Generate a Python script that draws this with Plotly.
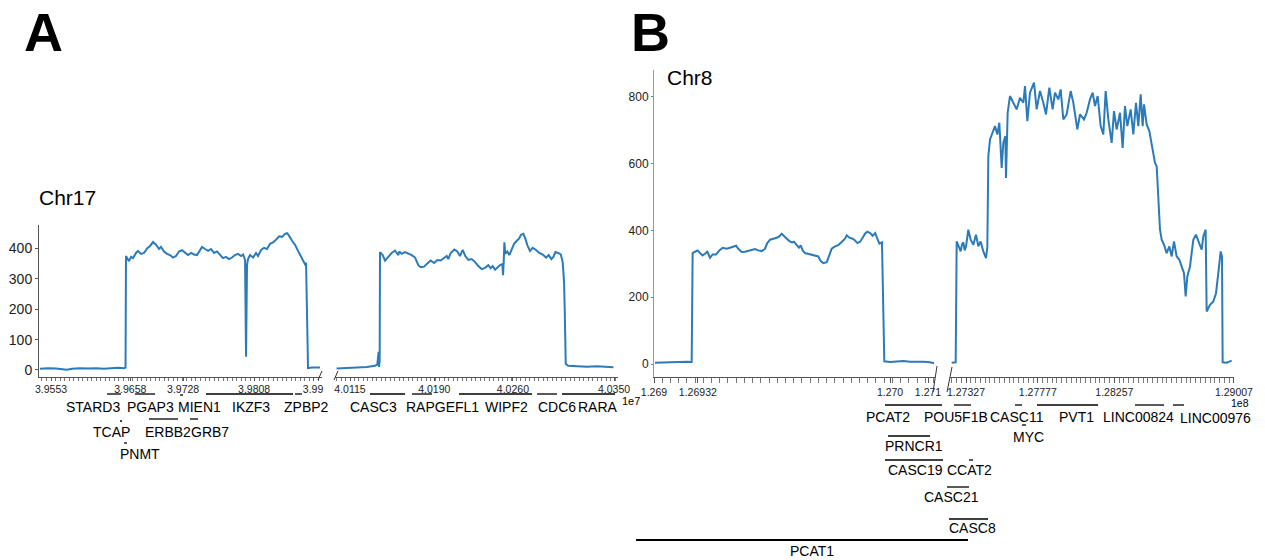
import plotly.graph_objects as go

W, H = 1265, 560
FONT = "Liberation Sans, Arial, sans-serif"
BLUE = "#2b7bba"
AXC = "#555555"

# ---------------- data: panel A (Chr17, x in units of 1e7) ----------------
a1_x = [3.95384, 3.95490, 3.95596, 3.95702, 3.95742, 3.95808, 3.95914, 3.96020, 3.96126, 3.96232,
        3.96338, 3.96417, 3.96497, 3.96517,
        3.96523, 3.96537, 3.96563, 3.96590, 3.96616, 3.96656, 3.96682, 3.96722, 3.96762, 3.96802,
        3.96841, 3.96881, 3.96921, 3.96961, 3.96987, 3.97027, 3.97066, 3.97106, 3.97146, 3.97186,
        3.97225, 3.97265, 3.97305, 3.97345, 3.97384, 3.97424, 3.97464, 3.97504, 3.97530, 3.97570,
        3.97610, 3.97649, 3.97689, 3.97729, 3.97768, 3.97808, 3.97848, 3.97888, 3.97927, 3.97967,
        3.98007, 3.98047, 3.98074, 3.98100, 3.98113, 3.98126, 3.98139, 3.98166, 3.98206, 3.98245,
        3.98272, 3.98312, 3.98351, 3.98391, 3.98431, 3.98471, 3.98510, 3.98550, 3.98590, 3.98629,
        3.98656, 3.98682, 3.98722, 3.98762, 3.98802, 3.98841, 3.98868, 3.98894, 3.98908, 3.98927,
        3.98934, 3.98987, 3.99040, 3.99093]
a1_y = [4, 6, 5, 3, 1, 4, 6, 5, 6, 4, 6, 7, 6, 8,
        375, 368, 358, 372, 368, 385, 392, 382, 385, 400,
        408, 421, 412, 398, 405, 390, 382, 378, 370, 375,
        390, 394, 385, 378, 385, 380, 378, 392, 405, 398,
        392, 398, 385, 390, 378, 368, 372, 365, 370, 378,
        382, 375, 380, 362, 44, 345, 365, 378, 370, 385,
        375, 395, 402, 398, 415, 420, 428, 440, 438, 448,
        450, 442, 425, 412, 392, 375, 360, 348, 352, 120,
        6, 8, 7, 8]

a2_x = [4.01031, 4.01121, 4.01210, 4.01299, 4.01373, 4.01393, 4.01405, 4.01408, 4.01414, 4.01417,
        4.01441, 4.01462, 4.01491, 4.01521, 4.01551, 4.01580, 4.01589, 4.01610, 4.01640, 4.01669,
        4.01699, 4.01729, 4.01758, 4.01779, 4.01809, 4.01838, 4.01868, 4.01898, 4.01928, 4.01957,
        4.01987, 4.02011, 4.02025, 4.02046, 4.02078, 4.02105, 4.02129, 4.02153, 4.02176, 4.02203,
        4.02233, 4.02263, 4.02292, 4.02322, 4.02352, 4.02381, 4.02402, 4.02420, 4.02441, 4.02461,
        4.02485, 4.02506, 4.02512, 4.02518, 4.02524, 4.02532, 4.02550, 4.02568, 4.02589, 4.02610,
        4.02634, 4.02654, 4.02672, 4.02693, 4.02711, 4.02729, 4.02752, 4.02776, 4.02806, 4.02835,
        4.02865, 4.02895, 4.02919, 4.02942, 4.02960, 4.02978, 4.03002, 4.03026, 4.03043, 4.03055,
        4.03061, 4.03064, 4.03070, 4.03093, 4.03168, 4.03257, 4.03346, 4.03435, 4.03494]
a2_y = [5, 6, 8, 10, 14, 18, 60, 10, 30, 388,
        378, 360, 372, 385, 393, 378, 390, 382, 388, 384,
        378, 370, 345, 338, 340, 350, 360, 352, 362, 360,
        368, 375, 365, 385, 396, 390, 375, 395, 375, 362,
        365, 355, 342, 332, 336, 345, 335, 342, 330, 338,
        345, 348, 312, 355, 420, 382, 390, 378, 398, 415,
        425, 432, 445, 448, 432, 410, 392, 402, 395, 385,
        380, 370, 378, 365, 372, 388, 385, 380, 355, 290,
        200, 100, 20, 14, 12, 11, 12, 11, 9]

# ---------------- data: panel B (Chr8, x in units of 1e8) ----------------
b1_x = [1.269007, 1.269068, 1.269129, 1.269190, 1.269239, 1.269275, 1.269282, 1.269299, 1.269319, 1.269336,
        1.269355, 1.269372, 1.269389, 1.269409, 1.269428, 1.269453, 1.269477, 1.269501, 1.269531, 1.269555,
        1.269579, 1.269599, 1.269615, 1.269640, 1.269664, 1.269688, 1.269713, 1.269737, 1.269761, 1.269786,
        1.269810, 1.269827, 1.269847, 1.269871, 1.269896, 1.269915, 1.269932, 1.269949, 1.269969, 1.269988,
        1.270007, 1.270022, 1.270042, 1.270058, 1.270071, 1.270085, 1.270102, 1.270126, 1.270151, 1.270175,
        1.270199, 1.270217, 1.270236, 1.270261, 1.270280, 1.270297, 1.270321, 1.270345, 1.270370, 1.270394,
        1.270407, 1.270426, 1.270450, 1.270467, 1.270484, 1.270504, 1.270523, 1.270540, 1.270557, 1.270577,
        1.270596, 1.270615, 1.270630, 1.270645, 1.270664, 1.270674, 1.270681, 1.270723, 1.270772, 1.270820,
        1.270869, 1.270917, 1.270966, 1.271015, 1.271044]
b1_y = [4, 5, 4, 5, 7, 6, 332, 336, 340, 332,
        325, 330, 336, 318, 328, 328, 340, 348, 345, 348,
        352, 354, 345, 335, 336, 338, 340, 344, 340, 338,
        345, 362, 372, 374, 378, 382, 390, 383, 374, 368,
        364, 366, 356, 348, 355, 340, 332, 330, 326, 325,
        322, 308, 302, 305, 325, 345, 352, 356, 365, 375,
        385, 378, 375, 370, 362, 366, 378, 390, 396, 392,
        384, 392, 375, 360, 364, 200, 8, 6, 7, 9,
        7, 8, 7, 5, 2]

b2_x = [1.272372, 1.272624, 1.272686, 1.272789, 1.272936, 1.273019, 1.273103, 1.273186, 1.273270, 1.273416,
        1.273563, 1.273730, 1.273897, 1.274043, 1.274189, 1.274356, 1.274524, 1.274607, 1.274670, 1.274775,
        1.274942, 1.275088, 1.275234, 1.275360, 1.275506, 1.275610, 1.275736, 1.275778, 1.275882, 1.276028,
        1.276237, 1.276446, 1.276655, 1.276864, 1.276969, 1.277115, 1.277282, 1.277533, 1.277700, 1.277909,
        1.278118, 1.278285, 1.278494, 1.278703, 1.278849, 1.279058, 1.279204, 1.279371, 1.279580, 1.279831,
        1.279998, 1.280249, 1.280417, 1.280667, 1.280834, 1.281043, 1.281210, 1.281357, 1.281524, 1.281712,
        1.281879, 1.282026, 1.282193, 1.282402, 1.282548, 1.282715, 1.282924, 1.283091, 1.283238, 1.283384,
        1.283593, 1.283760, 1.283927, 1.284073, 1.284220, 1.284345, 1.284429, 1.284596, 1.284763, 1.284909,
        1.285013, 1.285119, 1.285223, 1.285328, 1.285432, 1.285537, 1.285683, 1.285850, 1.286017, 1.286163,
        1.286309, 1.286476, 1.286643, 1.286790, 1.286936, 1.287040, 1.287145, 1.287312, 1.287521, 1.287688,
        1.287897, 1.288043, 1.288148, 1.288294, 1.288357, 1.288566, 1.288775, 1.288942, 1.289088, 1.289235,
        1.289318, 1.289360, 1.289611, 1.289924]
b2_y = [4, 5, 367, 352, 337, 358, 364, 340, 352, 402,
        372, 357, 387, 352, 367, 337, 317, 350, 622, 672,
        697, 712, 687, 722, 587, 662, 682, 557, 752, 802,
        782, 762, 797, 782, 832, 727, 812, 842, 762, 817,
        782, 747, 827, 762, 812, 792, 822, 732, 747, 817,
        782, 702, 747, 732, 752, 792, 812, 772, 802, 712,
        687, 817, 732, 662, 757, 702, 752, 647, 772, 712,
        762, 687, 782, 712, 807, 712, 777, 717, 697, 662,
        627, 602, 592, 492, 402, 372, 357, 332, 352, 322,
        367, 322, 312, 292, 272, 202, 262, 292, 372, 387,
        362, 342, 382, 402, 157, 177, 187, 212, 272, 337,
        322, 5, 4, 10]

# ---------------- tick labels ----------------
a1_tickvals = [3.9553, 3.9658, 3.9728, 3.9822, 3.99]
a1_ticktext = ["3.9553", "3.9658", "3.9728", "3.9808", "3.99"]
a2_tickvals = [4.0115, 4.0190, 4.0260, 4.0350]
a2_ticktext = ["4.0115", "4.0190", "4.0260", "4.0350"]
b1_tickvals = [1.269, 1.26932, 1.270723, 1.271]
b1_ticktext = ["1.269", "1.26932", "1.270", "1.271"]
b2_tickvals = [1.27327, 1.27777, 1.28257, 1.29007]
b2_ticktext = ["1.27327", "1.27777", "1.28257", "1.29007"]
a_yticks = [0, 100, 200, 300, 400]
b_yticks = [0, 200, 400, 600, 800]

# ---------------- gene annotations (genomic spans, same units as axes) ----------------
a1_genes = ["STARD3", "PGAP3", "MIEN1", "IKZF3", "ZPBP2", "TCAP", "ERBB2", "GRB7", "PNMT"]
a1_start = [3.96272, 3.96643, 3.97239, 3.97583, 3.98762, 3.96444, 3.96828, 3.97371, 3.96497]
a1_end = [3.96457, 3.96908, 3.97278, 3.98735, 3.98854, 3.96470, 3.97212, 3.97477, 3.96537]
a1_label = [3.96086, 3.96841, 3.97490, 3.98179, 3.98908, 3.96325, 3.97080, 3.97636, 3.96709]

a2_genes = ["CASC3", "RAPGEFL1", "WIPF2", "CDC6", "RARA"]
a2_start = [4.01328, 4.01702, 4.02120, 4.02815, 4.03037]
a2_end = [4.01640, 4.01880, 4.02770, 4.02993, 4.03509]
a2_label = [4.01355, 4.01969, 4.02539, 4.02993, 4.03358]

b1_genes = ["PCAT1", "PCAT2", "PRNCR1", "CASC19"]
b1_start = [1.268869, 1.270686, 1.270708, 1.270686]
b1_end = [1.271292, 1.271102, 1.271015, 1.271109]
b1_label = [1.270153, 1.270708, 1.270898, 1.270905]

b2_genes = ["POU5F1B", "CASC11", "PVT1", "LINC00824", "LINC00976", "MYC", "CCAT2", "CASC21", "CASC8"]
b2_start = [1.272518, 1.276342, 1.277721, 1.283865, 1.286247, 1.276781, 1.273458, 1.272079, 1.272204]
b2_end = [1.273583, 1.276781, 1.281545, 1.285683, 1.286936, 1.277031, 1.273709, 1.273458, 1.274649]
b2_label = [1.272643, 1.276467, 1.280166, 1.284053, 1.288880, 1.277157, 1.273458, 1.272392, 1.273646]

# ---------------- layout (pixel positions of rows / panels) ----------------
a1_line_py = [394, 394, 395, 394, 394, 421, 419, 419, 443]
a1_text_py = [407, 407, 407, 407, 407, 432, 432, 432, 454]
a2_line_py = [394, 394, 394, 394, 394]
a2_text_py = [407, 407, 407, 407, 407]
b1_line_py = [540, 405, 436, 460]
b1_text_py = [551, 417, 446, 470]
b1_line_w = [2.2, 1.3, 1.3, 1.3]
b2_line_py = [405, 405, 405, 405, 405, 425, 460, 487, 519]
b2_text_py = [417, 417, 417, 417, 418, 437, 470, 497, 528]

A1_DOM, A2_DOM, A_YDOM = (39, 322), (335, 618), (225, 376.5)
B1_DOM, B2_DOM, B_YDOM = (654, 935), (950, 1234), (70, 377)
A1_RNG, A2_RNG = [3.95371, 3.99119], [4.010165, 4.035352]
B1_RNG, B2_RNG = [1.269, 1.271051], [1.272267, 1.290071]
A_YRNG, B_YRNG = [-21.4, 477], [-38.9, 880]
WIDE_B = (630, 1265)
GENE_FS = 14
TICK_FS = 10.5


def fx(p):
    return p / W


def fy(p):
    return 1 - p / H


def xdom(d):
    return [fx(d[0]), fx(d[1])]


def ydom(d):
    return [fy(d[1]), fy(d[0])]


def extend(rng, dom, wide):
    k = (rng[1] - rng[0]) / (dom[1] - dom[0])
    return [rng[0] + (wide[0] - dom[0]) * k, rng[0] + (wide[1] - dom[0]) * k]


fig = go.Figure()
for xs, ys, xa, ya in [(a1_x, a1_y, "x", "y"), (a2_x, a2_y, "x2", "y2"),
                       (b1_x, b1_y, "x3", "y3"), (b2_x, b2_y, "x4", "y4")]:
    fig.add_trace(go.Scatter(x=xs, y=ys, xaxis=xa, yaxis=ya, mode="lines",
                             line=dict(color=BLUE, width=2), showlegend=False,
                             hoverinfo="skip"))


def xax(dom, rng, tv, tt, anchor, mdt, t0, tl):
    return dict(domain=xdom(dom), range=rng, anchor=anchor, showline=True,
                linecolor=AXC, linewidth=1, ticks="outside", ticklen=tl,
                tickcolor=AXC, tickwidth=1, tickmode="array", tickvals=tv,
                ticktext=tt, tickfont=dict(size=TICK_FS, color="#222", family=FONT),
                showgrid=False, zeroline=False, fixedrange=True, automargin=False,
                minor=dict(ticks="outside", ticklen=tl, tickcolor="#777",
                           tickwidth=1, dtick=mdt, tick0=t0, showgrid=False))


fig.update_layout(
    width=W, height=H, margin=dict(l=0, r=0, t=0, b=0, pad=0), autosize=False,
    paper_bgcolor="white", plot_bgcolor="rgba(0,0,0,0)",
    font=dict(family=FONT, color="black"),
    showlegend=False,
    xaxis=xax(A1_DOM, A1_RNG, a1_tickvals, a1_ticktext, "y", 0.0006, 3.9553, 3),
    xaxis2=xax(A2_DOM, A2_RNG, a2_tickvals, a2_ticktext, "y2", 0.0004, 4.0115, 3),
    xaxis3=xax(B1_DOM, B1_RNG, b1_tickvals, b1_ticktext, "y3", 0.00006, 1.269, 5),
    xaxis4=xax(B2_DOM, B2_RNG, b2_tickvals, b2_ticktext, "y4", 0.0003, 1.27327, 5),
    xaxis5=dict(domain=xdom(WIDE_B), range=extend(B1_RNG, B1_DOM, WIDE_B),
                anchor="free", position=0, visible=False, fixedrange=True,
                automargin=False),
    xaxis6=dict(domain=xdom(WIDE_B), range=extend(B2_RNG, B2_DOM, WIDE_B),
                anchor="free", position=0, visible=False, fixedrange=True,
                automargin=False),
    yaxis=dict(domain=ydom(A_YDOM), range=A_YRNG, anchor="x", showline=True,
               linecolor=AXC, ticks="outside", ticklen=3, tickcolor=AXC,
               tickvals=a_yticks, tickfont=dict(size=14, color="#222", family=FONT),
               showgrid=False, zeroline=False, fixedrange=True, automargin=False),
    yaxis2=dict(domain=ydom(A_YDOM), range=A_YRNG, anchor="x2", visible=False,
                fixedrange=True, automargin=False),
    yaxis3=dict(domain=ydom(B_YDOM), range=B_YRNG, anchor="x3", showline=True,
                linecolor="#999", ticks="outside", ticklen=2, tickcolor="#777",
                tickvals=b_yticks, tickfont=dict(size=12, color="#222", family=FONT),
                showgrid=False, zeroline=False, fixedrange=True, automargin=False),
    yaxis4=dict(domain=ydom(B_YDOM), range=B_YRNG, anchor="x4", visible=False,
                fixedrange=True, automargin=False),
)


def add_genes(names, starts, ends, labels, xref, line_py, text_py, widths=None):
    for i, name in enumerate(names):
        w = widths[i] if widths else 1.3
        fig.add_shape(type="line", xref=xref, yref="paper", x0=starts[i], x1=ends[i],
                      y0=fy(line_py[i]), y1=fy(line_py[i]),
                      line=dict(color="black", width=w))
        fig.add_annotation(x=labels[i], y=fy(text_py[i]), xref=xref, yref="paper",
                           text=name, showarrow=False, xanchor="center", yanchor="middle",
                           borderpad=0,
                           font=dict(size=GENE_FS, color="black", family=FONT))


add_genes(a1_genes, a1_start, a1_end, a1_label, "x", a1_line_py, a1_text_py)
add_genes(a2_genes, a2_start, a2_end, a2_label, "x2", a2_line_py, a2_text_py)
add_genes(b1_genes, b1_start, b1_end, b1_label, "x5", b1_line_py, b1_text_py, b1_line_w)
add_genes(b2_genes, b2_start, b2_end, b2_label, "x6", b2_line_py, b2_text_py)

# axis-break marks
for (x0, y0, x1, y1) in [(318, 380, 322, 371), (334, 380, 338, 371),
                         (933, 392, 937, 366), (947, 392, 952, 367)]:
    fig.add_shape(type="line", xref="paper", yref="paper", x0=fx(x0), y0=fy(y0),
                  x1=fx(x1), y1=fy(y1), line=dict(color="#333", width=1))

# titles / panel letters / exponent labels
for (txt, px, py, size) in [("<b>A</b>", 43, 32, 54), ("<b>B</b>", 650, 32, 54),
                            ("Chr17", 67, 197, 21), ("Chr8", 690, 78, 21),
                            ("1e7", 631, 401, 11), ("1e8", 1240, 403, 10.5)]:
    fig.add_annotation(x=fx(px), y=fy(py), xref="paper", yref="paper", text=txt,
                       showarrow=False, xanchor="center", yanchor="middle",
                       borderpad=0,
                       font=dict(size=size, color="black", family=FONT))

fig.write_html("out.html", config={"displayModeBar": False},
               post_script="document.body.style.margin='0px';")
